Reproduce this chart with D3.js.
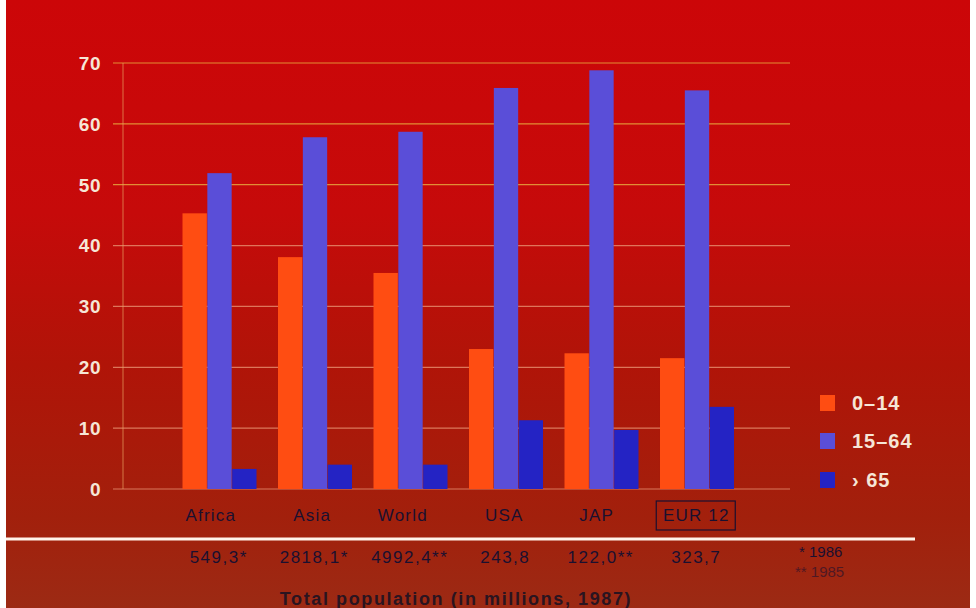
<!DOCTYPE html>
<html><head><meta charset="utf-8">
<script src="https://cdn.jsdelivr.net/npm/d3@7"></script>
<style>body{margin:0;background:#fff}svg{display:block}</style>
</head><body>
<svg id="c" width="976" height="608"></svg>
<script>
const categories = ["Africa","Asia","World","USA","JAP","EUR 12"];
const populations = ["549,3*","2818,1*","4992,4**","243,8","122,0**","323,7"];
const seriesNames = ["0–14","15–64","› 65"];
const age0_14 = [45.3, 38.1, 35.5, 23.0, 22.3, 21.5];
const age15_64 = [51.9, 57.8, 58.7, 65.9, 68.8, 65.5];
const age65 = [3.3, 4.0, 4.0, 11.3, 9.7, 13.5];
const yTicks = [0,10,20,30,40,50,60,70];
const colors = ["#ff4d12","#5a4ed8","#2423c4"];

const svg = d3.select("#c");
const defs = svg.append("defs");
const g1 = defs.append("linearGradient").attr("id","bg").attr("x1",0).attr("y1",0).attr("x2",0).attr("y2",1);
g1.append("stop").attr("offset","0%").attr("stop-color","#cc0608");
g1.append("stop").attr("offset","35%").attr("stop-color","#c60a0a");
g1.append("stop").attr("offset","60%").attr("stop-color","#b01408");
g1.append("stop").attr("offset","85%").attr("stop-color","#a2200c");
g1.append("stop").attr("offset","100%").attr("stop-color","#9c2a14");
svg.append("rect").attr("x",6).attr("y",0).attr("width",964).attr("height",608).attr("fill","url(#bg)");

const y = d3.scaleLinear().domain([0,70]).range([489,63]);
const x0 = d3.scaleBand().domain(categories).range([172,745]).paddingInner(0).paddingOuter(0);
const x1 = d3.scaleBand().domain([0,1,2]).range([10, 85]).padding(0.02);

// gridlines
svg.append("g").selectAll("line").data(yTicks).join("line")
  .attr("x1",113).attr("x2",790)
  .attr("y1",d=>y(d)).attr("y2",d=>y(d))
  .attr("stroke",d=>d>=50?"#e8b040":"#e89070").attr("stroke-width",1.2).attr("opacity",0.8);
svg.append("line").attr("x1",123).attr("x2",123).attr("y1",y(70)).attr("y2",y(0))
  .attr("stroke","#e8a060").attr("stroke-width",1).attr("opacity",0.7);

// y tick labels
svg.append("g").selectAll("text").data(yTicks).join("text")
  .attr("x",101).attr("y",d=>y(d)).attr("dy","0.36em").attr("text-anchor","end")
  .attr("font-family","Liberation Sans, Arial, sans-serif").attr("font-size",19).attr("font-weight","bold")
  .attr("letter-spacing",0.5)
  .attr("fill","#f6e6d6").text(d=>d);

// bars
const series = [age0_14, age15_64, age65];
const groups = svg.append("g").selectAll("g").data(categories).join("g")
  .attr("transform",d=>`translate(${x0(d)},0)`);
groups.selectAll("rect").data((d,i)=>series.map((s,k)=>({k,v:s[i]}))).join("rect")
  .attr("x",d=>x1(d.k)).attr("width",x1.bandwidth())
  .attr("y",d=>y(d.v)).attr("height",d=>y(0)-y(d.v))
  .attr("fill",d=>colors[d.k]);

// category labels
const catOff = [-9, -3, -8, -2, -5, -1];
svg.append("g").selectAll("text").data(categories).join("text")
  .attr("x",(d,i)=>x0(d)+x0.bandwidth()/2+catOff[i]).attr("y",521).attr("text-anchor","middle")
  .attr("font-family","Liberation Sans, Arial, sans-serif").attr("font-size",17)
  .attr("letter-spacing",1.2)
  .attr("fill","#1a1030").text(d=>d);
const eurX = x0("EUR 12")+x0.bandwidth()/2-1;
svg.append("rect").attr("x",eurX-40).attr("y",501).attr("width",79).attr("height",29)
  .attr("fill","none").attr("stroke","#1a1030").attr("stroke-width",1.2);

// white separator line
svg.append("line").attr("x1",6).attr("x2",915).attr("y1",539).attr("y2",539)
  .attr("stroke","#fff4ea").attr("stroke-width",3);

// populations
svg.append("g").selectAll("text").data(populations).join("text")
  .attr("x",(d,i)=>x0(categories[i])+x0.bandwidth()/2-1).attr("y",563).attr("text-anchor","middle")
  .attr("font-family","Liberation Sans, Arial, sans-serif").attr("font-size",17)
  .attr("letter-spacing",1.5)
  .attr("fill","#1a1030").text(d=>d);

svg.append("text").attr("x",799).attr("y",557).attr("font-family","Liberation Sans, Arial, sans-serif")
  .attr("font-size",15).attr("fill","#1a1030").text("*   1986");
svg.append("text").attr("x",795).attr("y",577).attr("font-family","Liberation Sans, Arial, sans-serif")
  .attr("font-size",15).attr("fill","#1a1030").attr("opacity",0.6).text("**  1985");

svg.append("text").attr("x",456).attr("y",605).attr("text-anchor","middle")
  .attr("font-family","Liberation Sans, Arial, sans-serif").attr("font-size",18).attr("font-weight","bold")
  .attr("letter-spacing",1.6)
  .attr("fill","#2a1420").text("Total population (in millions, 1987)");

// legend
const legY = [403, 441, 480];
const leg = svg.append("g").selectAll("g").data(seriesNames).join("g")
  .attr("transform",(d,i)=>`translate(820,${legY[i]})`);
leg.append("rect").attr("x",0).attr("y",-8).attr("width",15).attr("height",16).attr("fill",(d,i)=>colors[i]);
leg.append("text").attr("x",32).attr("y",0).attr("dy","0.36em")
  .attr("font-family","Liberation Sans, Arial, sans-serif").attr("font-size",20).attr("font-weight","bold")
  .attr("letter-spacing",1)
  .attr("fill","#f6e6d6").text(d=>d);
</script>
</body></html>
